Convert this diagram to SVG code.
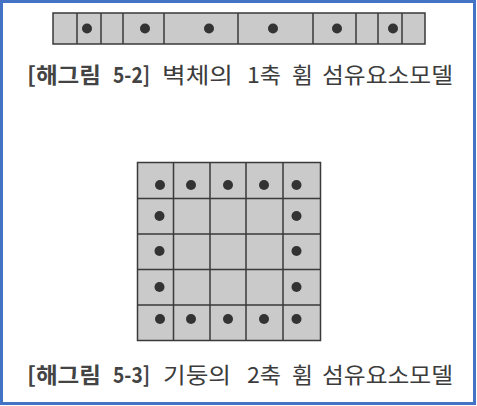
<svg xmlns="http://www.w3.org/2000/svg" width="477" height="406" viewBox="0 0 477 406">
<style>
.cell{fill:#cacaca;stroke:#3a3a3a;stroke-width:1.5}
.ln{stroke:#3a3a3a;stroke-width:1.5;fill:none}
.dot{fill:#333}
.cap{font-family:"Noto Sans CJK KR","Noto Sans",sans-serif;font-size:22px;fill:#3c3c3c}
.b{font-weight:700;fill:#444}
</style>
<rect x="1.5" y="1.5" width="473" height="402" fill="#fff" stroke="#4472c4" stroke-width="3"/>
<g id="wall">
<rect class="cell" x="53" y="13" width="372" height="31"/>
<path class="ln" d="M77 13V44M101 13V44M123 13V44M164 13V44M238 13V44M313 13V44M356 13V44M378 13V44M402 13V44"/>
<circle class="dot" cx="87" cy="28.5" r="5"/>
<circle class="dot" cx="145" cy="28.5" r="5"/>
<circle class="dot" cx="209" cy="28.5" r="5"/>
<circle class="dot" cx="273" cy="28.5" r="5"/>
<circle class="dot" cx="337" cy="28.5" r="5"/>
<circle class="dot" cx="393" cy="28.5" r="5"/>
</g>
<g id="caption1">
<text class="cap b" x="27" y="83" textLength="74" lengthAdjust="spacingAndGlyphs">[해그림</text>
<text class="cap b" x="113" y="83" textLength="37" lengthAdjust="spacingAndGlyphs">5-2]</text>
<text class="cap" x="162" y="83" textLength="71" lengthAdjust="spacingAndGlyphs">벽체의</text>
<text class="cap" x="247" y="83" textLength="34" lengthAdjust="spacingAndGlyphs">1축</text>
<text class="cap" x="292" y="83" textLength="21" lengthAdjust="spacingAndGlyphs">휨</text>
<text class="cap" x="322" y="83" textLength="131" lengthAdjust="spacingAndGlyphs">섬유요소모델</text>
</g>
<g id="column">
<rect class="cell" x="137.5" y="162.5" width="183" height="178"/>
<path class="ln" d="M173.5 162.5V340.5M210 162.5V340.5M246 162.5V340.5M283 162.5V340.5M137.5 198.5H320.5M137.5 234H320.5M137.5 269.5H320.5M137.5 305H320.5"/>
<circle class="dot" cx="160" cy="185" r="5"/>
<circle class="dot" cx="191" cy="185" r="5"/>
<circle class="dot" cx="228" cy="185" r="5"/>
<circle class="dot" cx="264" cy="185" r="5"/>
<circle class="dot" cx="296.5" cy="185" r="5"/>
<circle class="dot" cx="159.5" cy="216" r="5"/>
<circle class="dot" cx="296.5" cy="216" r="5"/>
<circle class="dot" cx="159.5" cy="251" r="5"/>
<circle class="dot" cx="296.5" cy="251" r="5"/>
<circle class="dot" cx="159.5" cy="287" r="5"/>
<circle class="dot" cx="296.5" cy="287" r="5"/>
<circle class="dot" cx="160" cy="319" r="5"/>
<circle class="dot" cx="191" cy="319" r="5"/>
<circle class="dot" cx="228" cy="319" r="5"/>
<circle class="dot" cx="264" cy="319" r="5"/>
<circle class="dot" cx="296.5" cy="319" r="5"/>
</g>
<g id="caption2">
<text class="cap b" x="27" y="383" textLength="74" lengthAdjust="spacingAndGlyphs">[해그림</text>
<text class="cap b" x="113" y="383" textLength="37" lengthAdjust="spacingAndGlyphs">5-3]</text>
<text class="cap" x="163" y="383" textLength="68" lengthAdjust="spacingAndGlyphs">기둥의</text>
<text class="cap" x="247" y="383" textLength="34" lengthAdjust="spacingAndGlyphs">2축</text>
<text class="cap" x="292" y="383" textLength="21" lengthAdjust="spacingAndGlyphs">휨</text>
<text class="cap" x="322" y="383" textLength="131" lengthAdjust="spacingAndGlyphs">섬유요소모델</text>
</g>
</svg>
